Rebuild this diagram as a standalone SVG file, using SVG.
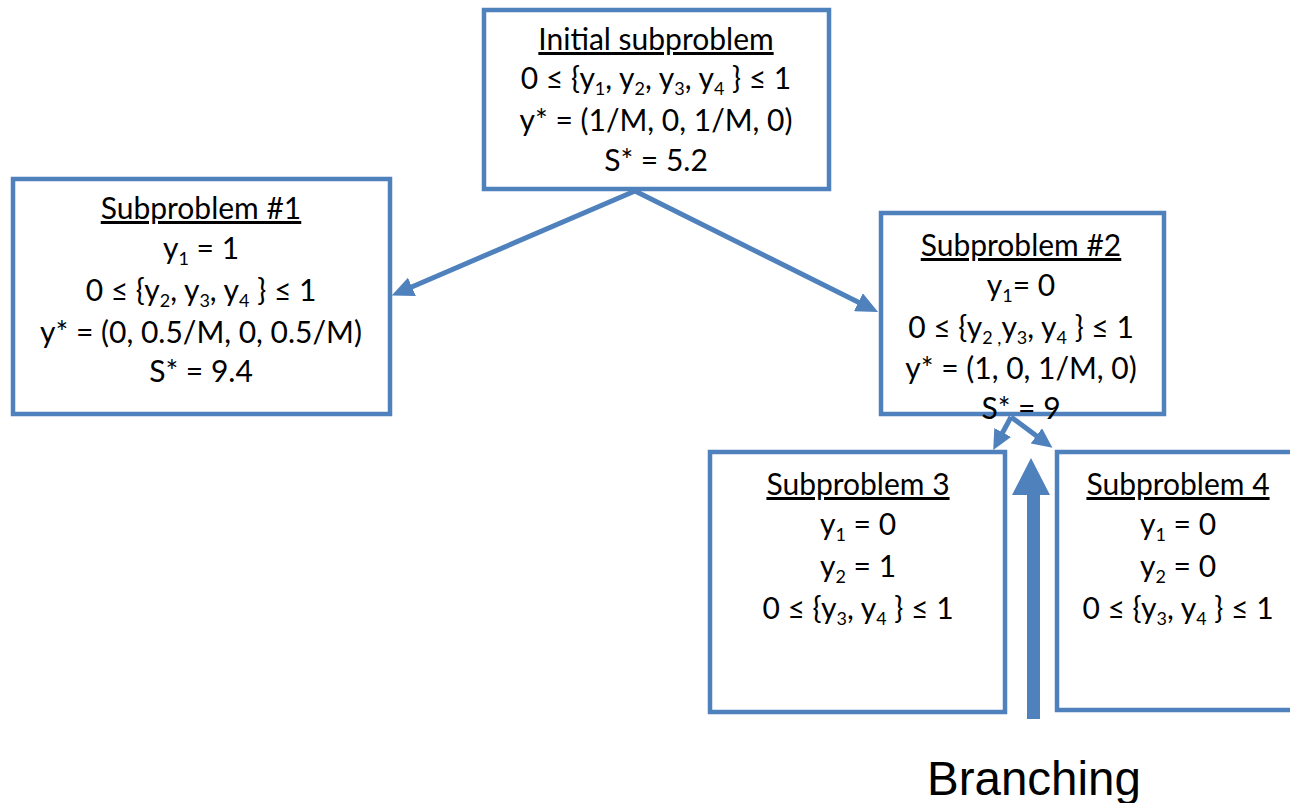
<svg xmlns="http://www.w3.org/2000/svg" width="1290" height="803" viewBox="0 0 1290 803">
  <style>
    .box { fill: #ffffff; stroke: #4F81BD; stroke-width: 4.5; }
    .t { font-family: Lato, "Liberation Sans", sans-serif; font-size: 30px; fill: #000000; text-anchor: middle; }
    .h { text-decoration: underline; }
    .s { font-size: 18px; }
    .edge { stroke: #4F81BD; stroke-width: 5; fill: none; }
    .lbl { font-family: "Liberation Sans", Arial, sans-serif; font-size: 47.5px; fill: #000000; }
  </style>
  <defs>
    <marker id="ah" markerWidth="4.4" markerHeight="4" refX="2.6" refY="2" orient="auto" markerUnits="strokeWidth">
      <path d="M0,0 L4.4,2 L0,4 Z" fill="#4F81BD"/>
    </marker>
    <marker id="ahs" markerWidth="4" markerHeight="3.8" refX="2.4" refY="1.9" orient="auto" markerUnits="strokeWidth">
      <path d="M0,0 L4,1.9 L0,3.8 Z" fill="#4F81BD"/>
    </marker>
  </defs>

  <rect width="1290" height="803" fill="#ffffff"/>

  <!-- connectors -->
  <g id="connectors">
    <line class="edge" x1="635" y1="191" x2="400" y2="292" marker-end="url(#ah)"/>
    <line class="edge" x1="635" y1="191" x2="870" y2="308" marker-end="url(#ah)"/>
  </g>

  <g id="initial">
    <rect class="box" x="484" y="10" width="345" height="179"/>
    <text class="t" x="656" y="50"><tspan class="h">Initial subproblem</tspan></text>
    <text class="t" x="656" y="89">0 ≤ {y<tspan class="s" dy="6">1</tspan><tspan dy="-6">, y</tspan><tspan class="s" dy="6">2</tspan><tspan dy="-6">, y</tspan><tspan class="s" dy="6">3</tspan><tspan dy="-6">, y</tspan><tspan class="s" dy="6">4</tspan><tspan dy="-6"> } ≤ 1</tspan></text>
    <text class="t" x="656" y="131">y* = (1/M, 0, 1/M, 0)</text>
    <text class="t" x="656" y="171">S* = 5.2</text>
  </g>

  <g id="sub1">
    <rect class="box" x="13" y="179" width="377" height="235"/>
    <text class="t" x="201" y="219"><tspan class="h">Subproblem #1</tspan></text>
    <text class="t" x="201" y="259">y<tspan class="s" dy="6">1</tspan><tspan dy="-6"> = 1</tspan></text>
    <text class="t" x="201" y="301">0 ≤ {y<tspan class="s" dy="6">2</tspan><tspan dy="-6">, y</tspan><tspan class="s" dy="6">3</tspan><tspan dy="-6">, y</tspan><tspan class="s" dy="6">4</tspan><tspan dy="-6"> } ≤ 1</tspan></text>
    <text class="t" x="201" y="343">y* = (0, 0.5/M, 0, 0.5/M)</text>
    <text class="t" x="201" y="382">S* = 9.4</text>
  </g>

  <g id="sub2">
    <rect class="box" x="881" y="213" width="283" height="201"/>
    <text class="t" x="1021" y="256"><tspan class="h">Subproblem #2</tspan></text>
    <text class="t" x="1021" y="296">y<tspan class="s" dy="6">1</tspan><tspan dy="-6">= 0</tspan></text>
    <text class="t" x="1021" y="338">0 ≤ {y<tspan class="s" dy="6">2 ,</tspan><tspan dy="-6">y</tspan><tspan class="s" dy="6">3</tspan><tspan dy="-6">, y</tspan><tspan class="s" dy="6">4</tspan><tspan dy="-6"> } ≤ 1</tspan></text>
    <text class="t" x="1021" y="379">y* = (1, 0, 1/M, 0)</text>
    <text class="t" x="1021" y="419">S* = 9</text>
  </g>

  <g id="connectors-lower">
    <line class="edge" x1="1011" y1="417" x2="997" y2="443" stroke-width="4.5" marker-end="url(#ahs)"/>
    <line class="edge" x1="1011" y1="417" x2="1046" y2="443" stroke-width="4.5" marker-end="url(#ahs)"/>
  </g>

  <g id="sub3">
    <rect class="box" x="710" y="452" width="295" height="260"/>
    <text class="t" x="858" y="495"><tspan class="h">Subproblem 3</tspan></text>
    <text class="t" x="858" y="535">y<tspan class="s" dy="6">1</tspan><tspan dy="-6"> = 0</tspan></text>
    <text class="t" x="858" y="577">y<tspan class="s" dy="6">2</tspan><tspan dy="-6"> = 1</tspan></text>
    <text class="t" x="858" y="619">0 ≤ {y<tspan class="s" dy="6">3</tspan><tspan dy="-6">, y</tspan><tspan class="s" dy="6">4</tspan><tspan dy="-6"> } ≤ 1</tspan></text>
  </g>

  <g id="sub4">
    <rect class="box" x="1057" y="452" width="240" height="258"/>
    <text class="t" x="1178" y="495"><tspan class="h">Subproblem 4</tspan></text>
    <text class="t" x="1178" y="535">y<tspan class="s" dy="6">1</tspan><tspan dy="-6"> = 0</tspan></text>
    <text class="t" x="1178" y="577">y<tspan class="s" dy="6">2</tspan><tspan dy="-6"> = 0</tspan></text>
    <text class="t" x="1178" y="619">0 ≤ {y<tspan class="s" dy="6">3</tspan><tspan dy="-6">, y</tspan><tspan class="s" dy="6">4</tspan><tspan dy="-6"> } ≤ 1</tspan></text>
  </g>

  <!-- branching indicator -->
  <g id="branching">
    <path d="M1027,719 L1027,495 L1012,495 L1031,458 L1050,495 L1040,495 L1040,719 Z" fill="#4F81BD"/>
    <text class="lbl" x="927" y="795">Branching</text>
  </g>
</svg>
